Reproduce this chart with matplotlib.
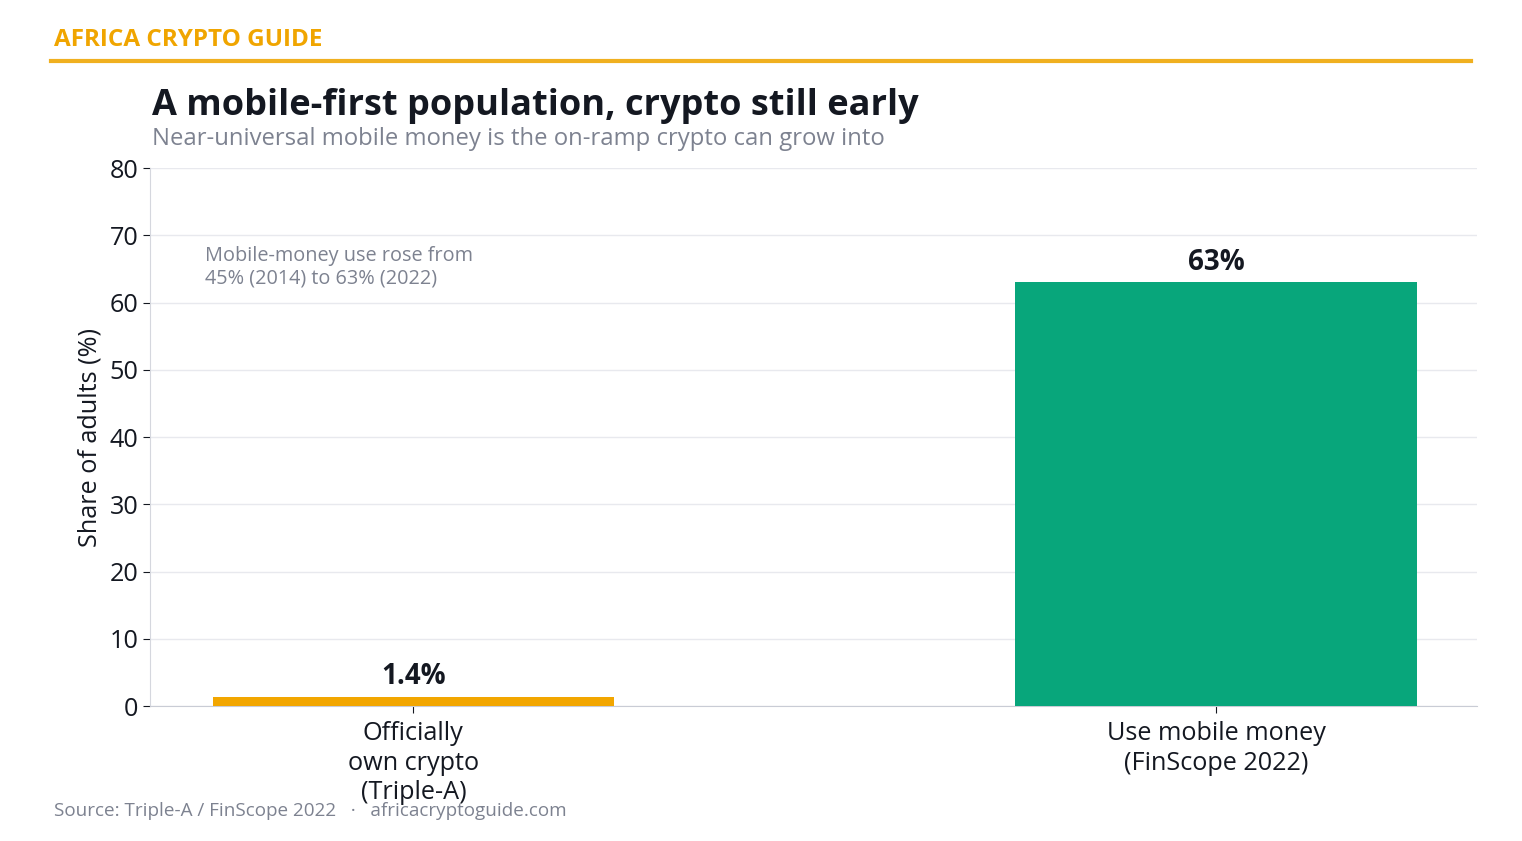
import matplotlib
matplotlib.use("Agg")
from matplotlib import pyplot as plt
from matplotlib.lines import Line2D

plt.rcParams["font.family"] = ["Open Sans", "DejaVu Sans"]

categories = ["Officially\nown crypto\n(Triple-A)", "Use mobile money\n(FinScope 2022)"]
values = [1.4, 63]
value_labels = ["1.4%", "63%"]
bar_colors = ["#F2A600", "#08A67B"]
y_ticks = [0, 10, 20, 30, 40, 50, 60, 70, 80]

ORANGE = "#F0A500"
DARK = "#141821"
GRAY = "#7D8290"
GRID = "#E8E9EE"


def run():
    fig = plt.figure(figsize=(15.22, 8.41), dpi=100)
    ax = fig.add_axes([0.0986, 0.1605, 0.8718, 0.6397])

    x = range(len(categories))
    ax.bar(x, values, width=0.5, color=bar_colors, zorder=3)
    for xi, v, lab in zip(x, values, value_labels):
        ax.annotate(lab, (xi, v), xytext=(0, 4), textcoords="offset points",
                    ha="center", va="bottom", fontsize=20, fontweight="bold",
                    color=DARK)

    ax.set_xlim(-0.328, 1.325)
    ax.set_ylim(0, 80)
    ax.set_yticks(y_ticks)
    ax.set_xticks(list(x))
    ax.set_xticklabels(categories, fontsize=18.2, color=DARK, linespacing=1.24)
    ax.tick_params(axis="y", labelsize=18.2, labelcolor=DARK, color=DARK, length=5)
    ax.tick_params(axis="x", color=DARK, length=5, pad=6)
    ax.set_ylabel("Share of adults (%)", fontsize=18.2, color=DARK, labelpad=5)

    ax.grid(axis="y", color=GRID, linewidth=1, zorder=0)
    for side in ["top", "right"]:
        ax.spines[side].set_visible(False)
    ax.spines["left"].set_color("#D5D7DE")
    ax.spines["bottom"].set_color("#C9CCD5")

    ax.text(-0.259, 68.4, "Mobile-money use rose from\n45% (2014) to 63% (2022)",
            ha="left", va="top", fontsize=14.3, color=GRAY, linespacing=1.15)

    fig.text(0.0355, 0.9525, "AFRICA CRYPTO GUIDE", ha="left", va="center",
             fontsize=17.5, fontweight="bold", color=ORANGE)
    fig.add_artist(Line2D([0.0335, 0.9665], [0.927, 0.927], color="#F0B020",
                          linewidth=3, transform=fig.transFigure))
    fig.text(0.1, 0.8735, "A mobile-first population, crypto still early",
             ha="left", va="center", fontsize=26, fontweight="bold", color=DARK)
    fig.text(0.1, 0.8345, "Near-universal mobile money is the on-ramp crypto can grow into",
             ha="left", va="center", fontsize=17.2, color=GRAY)
    fig.text(0.0355, 0.036, "Source: Triple-A / FinScope 2022   \u00b7   africacryptoguide.com",
             ha="left", va="center", fontsize=13.6, color=GRAY)

    fig.savefig("out.png", dpi=100)


if __name__ == "__main__":
    run()
